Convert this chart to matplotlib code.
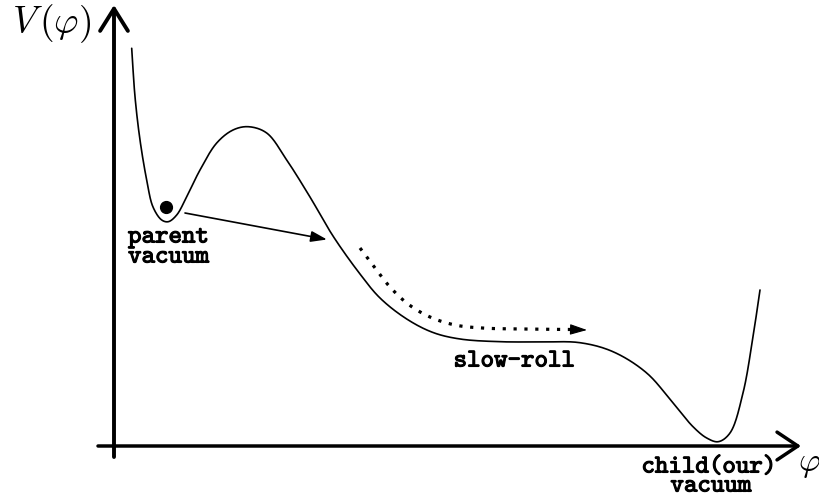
import numpy as np
import matplotlib
matplotlib.use("Agg")
import matplotlib.pyplot as plt
import matplotlib.patheffects as pe

plt.rcParams['mathtext.fontset'] = 'cm'

# Potential curve V(phi) (pixel-like data units, y downwards)
phi = [131.7, 135, 140, 146.7, 153, 161.7, 168.3, 176.7, 186.7, 200, 216.7, 233,
       248.3, 266.7, 286.7, 310, 333, 360, 380, 406.7, 433, 460, 500, 540, 580,
       613, 646.7, 673, 693, 706.7, 718.3, 730, 743, 753, 760]
V = [48.3, 96.7, 140, 180, 207, 220, 221.7, 215, 196.7, 170, 143, 130,
     126.7, 133, 160, 197, 236, 274, 298, 319, 332.5, 339, 341.7, 342, 342.7,
     351.7, 373, 403, 426.7, 438, 441.7, 433, 393, 336.7, 290]

# Dotted slow-roll path
roll_phi = [360, 375, 390, 408, 430, 455, 482, 520, 572]
roll_V = [248, 268, 287, 304, 317, 325, 328, 329, 329.5]
roll_head = (587, 330)

# Tunnelling arrow
tunnel_start = (185, 213)
tunnel_end = (327, 239.5)

# Ball in parent vacuum
ball = (166.5, 206.5)

# Axes geometry
x_axis_y = 446
y_axis_x = 114
x_axis_range = (98, 801)
y_axis_range = (457, 5)

labels_parent = ["parent", "vacuum"]
labels_child = ["child(our)", "vacuum"]
label_roll = "slow-roll"


def catmull_rom(xs, ys, n=24, alpha=0.5):
    P = np.column_stack([xs, ys]).astype(float)
    P = np.vstack([2 * P[0] - P[1], P, 2 * P[-1] - P[-2]])
    out = []
    for i in range(1, len(P) - 2):
        p0, p1, p2, p3 = P[i - 1], P[i], P[i + 1], P[i + 2]
        t0 = 0.0
        t1 = t0 + np.linalg.norm(p1 - p0) ** alpha
        t2 = t1 + np.linalg.norm(p2 - p1) ** alpha
        t3 = t2 + np.linalg.norm(p3 - p2) ** alpha
        t = np.linspace(t1, t2, n, endpoint=False)[:, None]
        a1 = (t1 - t) / (t1 - t0) * p0 + (t - t0) / (t1 - t0) * p1
        a2 = (t2 - t) / (t2 - t1) * p1 + (t - t1) / (t2 - t1) * p2
        a3 = (t3 - t) / (t3 - t2) * p2 + (t - t2) / (t3 - t2) * p3
        b1 = (t2 - t) / (t2 - t0) * a1 + (t - t0) / (t2 - t0) * a2
        b2 = (t3 - t) / (t3 - t1) * a2 + (t - t1) / (t3 - t1) * a3
        c = (t2 - t) / (t2 - t1) * b1 + (t - t1) / (t2 - t1) * b2
        out.append(c)
    out.append(P[-2][None, :])
    out = np.vstack(out)
    return out[:, 0], out[:, 1]


fig = plt.figure(figsize=(8.2, 4.97), dpi=100)
ax = fig.add_axes([0, 0, 1, 1])
ax.set_xlim(0, 820)
ax.set_ylim(497, 0)
ax.axis('off')

# axes arrows
ax.annotate('', xy=(y_axis_x, y_axis_range[1]), xytext=(y_axis_x, y_axis_range[0]),
            arrowprops=dict(arrowstyle='->,head_length=0.8,head_width=0.5',
                            lw=2.8, color='k', mutation_scale=20, shrinkA=0, shrinkB=0))
ax.annotate('', xy=(x_axis_range[1], x_axis_y), xytext=(x_axis_range[0], x_axis_y),
            arrowprops=dict(arrowstyle='->,head_length=0.75,head_width=0.5',
                            lw=2.5, color='k', mutation_scale=20, shrinkA=0, shrinkB=0))

# curve
cx, cy = catmull_rom(phi, V)
ax.plot(cx, cy, color='k', lw=1.2, solid_capstyle='round')

# ball
ax.plot(*ball, 'o', ms=8.5, color='k')

# tunnelling arrow
ax.annotate('', xy=tunnel_end, xytext=tunnel_start,
            arrowprops=dict(arrowstyle='-|>,head_length=0.65,head_width=0.22',
                            lw=1.2, color='k', mutation_scale=15, shrinkA=0, shrinkB=0))

# slow roll dotted path
rx, ry = catmull_rom(roll_phi, roll_V)
ax.plot(rx, ry, color='k', lw=2.3, linestyle=(0, (1, 2.4)))
ax.annotate('', xy=roll_head, xytext=(roll_phi[-1], roll_V[-1]),
            arrowprops=dict(arrowstyle='-|>,head_length=0.7,head_width=0.22',
                            lw=0.8, color='k', mutation_scale=15, shrinkA=0, shrinkB=0))

# texts
tt = dict(family='cmtt10', fontsize=18.5, color='k',
          path_effects=[pe.withStroke(linewidth=0.8, foreground='k')])
ax.text(128, 238, labels_parent[0], ha='left', va='center', **tt)
ax.text(128, 258, labels_parent[1], ha='left', va='center', **tt)
ax.text(709, 468, labels_child[0], ha='center', va='center', **tt)
ax.text(711, 487, labels_child[1], ha='center', va='center', **tt)
ax.text(514, 362, label_roll, ha='center', va='center', **tt)

ax.text(12, 24, r'$V\,(\varphi)$', fontsize=27, ha='left', va='center')
ax.text(798, 463, r'$\varphi$', fontsize=24, ha='left', va='center')

fig.savefig('out.png', dpi=100)
